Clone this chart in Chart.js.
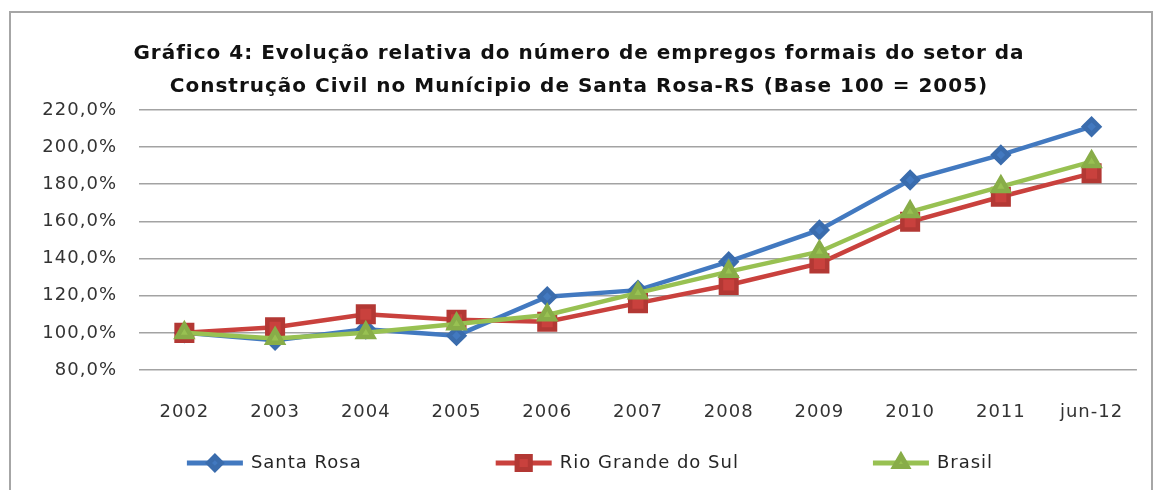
<!DOCTYPE html>
<html>
<head>
    <title>Construção Civil - Santa Rosa</title>
    <script src="https://cdn.jsdelivr.net/npm/chart.js@4.4.1/dist/chart.umd.min.js"></script>
    <style>
        body {
            margin: 0;
            background-color: white;
        }
        .chart-container {
            width: 1156px;
            height: 490px;
        }
    </style>
</head>
<body>
    <div class="chart-container">
        <canvas id="empregosChart"></canvas>
    </div>

    <script>
    // dados (base 100 = 2005)
    const categories = ['2002', '2003', '2004', '2005', '2006', '2007', '2008', '2009', '2010', '2011', 'jun-12'];
    const santaRosa = [100, 96, 102, 98.5, 119.5, 123, 138.3, 155.4, 182.3, 195.8, 211];
    const rioGrandeDoSul = [100, 103, 110, 107, 106, 116, 125.8, 137.4, 159.8, 173.3, 185.9];
    const brasil = [100, 97, 100, 104.8, 109.6, 121.5, 133, 143.7, 165.2, 178.7, 192.2];
    const yTicks = [80, 100, 120, 140, 160, 180, 200, 220];

    const titleLines = [
        'Gráfico 4: Evolução relativa do número de empregos formais do setor da',
        'Construção Civil no Munícipio de Santa Rosa-RS (Base 100 = 2005)'
    ];

    const FONT = "'DejaVu Sans', sans-serif";

    // o original tem o texto bem espaçado
    const spacingPlugin = {
        id: 'spacing',
        beforeUpdate(chart) { chart.ctx.letterSpacing = '1px'; },
        beforeDraw(chart) { chart.ctx.letterSpacing = '1px'; }
    };

    // moldura cinza em volta do gráfico
    const framePlugin = {
        id: 'frame',
        beforeDraw(chart) {
            const ctx = chart.ctx;
            ctx.save();
            ctx.strokeStyle = '#a6a6a6';
            ctx.lineWidth = 2;
            ctx.strokeRect(10, 12, chart.width - 14, chart.height + 10);
            ctx.restore();
        }
    };

    // legenda estilo Excel: linha com marcador no meio
    const legendPlugin = {
        id: 'excelLegend',
        afterDraw(chart) {
            const ctx = chart.ctx;
            const lineLen = 56, textGap = 8, itemGap = 134, y = 463;
            ctx.save();
            ctx.font = '18px ' + FONT;
            ctx.textBaseline = 'middle';
            const items = chart.data.datasets.map(ds => ({ ds, w: ctx.measureText(ds.label).width }));
            let total = 0;
            items.forEach((it, i) => {
                total += lineLen + textGap + it.w + (i < items.length - 1 ? itemGap : 0);
            });
            let x = 590 - total / 2;
            items.forEach(it => {
                const ds = it.ds;
                ctx.strokeStyle = ds.borderColor;
                ctx.lineWidth = 5;
                ctx.beginPath();
                ctx.moveTo(x, y);
                ctx.lineTo(x + lineLen, y);
                ctx.stroke();
                ctx.fillStyle = ds.pointBackgroundColor;
                ctx.strokeStyle = ds.pointBorderColor;
                Chart.helpers.drawPoint(ctx, {
                    pointStyle: ds.pointStyle,
                    radius: ds.pointRadius * 0.85,
                    rotation: 0,
                    borderWidth: 1
                }, x + lineLen / 2, y);
                ctx.fillStyle = '#262626';
                ctx.fillText(ds.label, x + lineLen + textGap, y);
                x += lineLen + textGap + it.w + itemGap;
            });
            ctx.restore();
        }
    };

    const data = {
        labels: categories,
        datasets: [{
            label: 'Santa Rosa',
            data: santaRosa,
            borderColor: '#4279c0',
            backgroundColor: '#4279c0',
            pointBackgroundColor: '#4279c0',
            pointBorderColor: '#3a6cad',
            pointStyle: 'rectRot',
            pointRadius: 7.5,
            borderWidth: 4.5,
            order: 2
        }, {
            label: 'Rio Grande do Sul',
            data: rioGrandeDoSul,
            borderColor: '#c9413d',
            backgroundColor: '#c9413d',
            pointBackgroundColor: '#c9413d',
            pointBorderColor: '#b33834',
            pointStyle: 'rect',
            pointRadius: 11,
            borderWidth: 4.5,
            order: 1
        }, {
            label: 'Brasil',
            data: brasil,
            borderColor: '#98c152',
            backgroundColor: '#98c152',
            pointBackgroundColor: '#98c152',
            pointBorderColor: '#88ad48',
            pointStyle: 'triangle',
            pointRadius: 8.5,
            borderWidth: 4.5,
            order: 0
        }]
    };

    const config = {
        type: 'line',
        data: data,
        options: {
            responsive: true,
            maintainAspectRatio: false,
            animation: false,
            layout: {
                padding: { left: 20, right: 18, top: 0, bottom: 0 }
            },
            plugins: {
                legend: { display: false },
                tooltip: { enabled: false },
                title: {
                    display: true,
                    text: titleLines,
                    color: '#111',
                    font: { family: FONT, size: 20, weight: 'bold', lineHeight: 1.65 },
                    padding: { top: 37.5, bottom: 6.5 }
                }
            },
            scales: {
                x: {
                    offset: true,
                    grid: { display: false, drawTicks: false },
                    border: { display: false },
                    ticks: {
                        color: '#333',
                        font: { family: FONT, size: 18 },
                        padding: 32,
                        maxRotation: 0
                    },
                    afterFit: s => { s.height = 120; }
                },
                y: {
                    min: yTicks[0],
                    max: yTicks[yTicks.length - 1],
                    afterBuildTicks: s => { s.ticks = yTicks.map(v => ({ value: v })); },
                    grid: { color: '#a3a3a3', lineWidth: 1.6, drawTicks: false },
                    border: { display: false },
                    ticks: {
                        color: '#333',
                        font: { family: FONT, size: 18 },
                        padding: 22,
                        callback: v => v.toFixed(1).replace('.', ',') + '%'
                    },
                    afterFit: s => { s.width = 119; }
                }
            }
        },
        plugins: [spacingPlugin, framePlugin, legendPlugin]
    };

    new Chart(document.getElementById('empregosChart'), config);
    </script>
</body>
</html>
